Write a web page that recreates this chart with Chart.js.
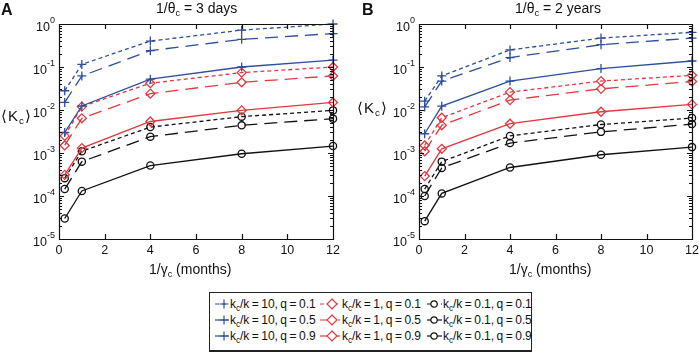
<!DOCTYPE html>
<html>
<head>
<meta charset="utf-8">
<script src="https://cdn.jsdelivr.net/npm/chart.js@4/dist/chart.umd.min.js"></script>
<style>
  body { margin: 0; width: 699px; height: 352px; background: #fff; position: relative; overflow: hidden;
         font-family: "Liberation Sans", Arial, sans-serif; color: #111; }
  canvas.panel { position: absolute; top: 0; }
  .txt { position: absolute; white-space: nowrap; line-height: 1; }
  .txt sub { font-size: 65%; vertical-align: -3px; line-height: 0; }
  .letter { font-size: 16px; font-weight: bold; }
  .title { font-size: 14px; }
  .kc { font-size: 15px; letter-spacing: 1px; }
  #legend { position: absolute; left: 209px; top: 292px; width: 321px; height: 57px; border: 1px solid #222; border-bottom-width: 2px; }
  .item { position: absolute; font-size: 12px; white-space: nowrap; line-height: 1; letter-spacing: -0.1px; word-spacing: -0.6px; }
  .item svg { position: absolute; top: -1px; }
  .item span { position: absolute; top: 0; }
  .item sub { font-size: 70%; vertical-align: -3px; line-height: 0; }
</style>
</head>
<body>
<canvas id="chartA" class="panel" width="350" height="285" style="left:0"></canvas>
<canvas id="chartB" class="panel" width="349" height="285" style="left:350px"></canvas>

<div class="txt letter" style="left:1px;top:2px">A</div>
<div class="txt letter" style="left:362px;top:2px">B</div>
<div class="txt title" style="left:156px;top:1px">1/θ<sub>c</sub> = 3 days</div>
<div class="txt title" style="left:515px;top:1px">1/θ<sub>c</sub> = 2 years</div>
<div class="txt kc" style="left:1px;top:108px">⟨K<sub>c</sub>⟩</div>
<div class="txt kc" style="left:357px;top:100px">⟨K<sub>c</sub>⟩</div>
<div class="txt title" style="left:149px;top:262px">1/γ<sub>c</sub> (months)</div>
<div class="txt title" style="left:509px;top:262px">1/γ<sub>c</sub> (months)</div>

<div id="legend"></div>

<script>
// x positions (months) and axis ticks
const months = [0.25, 1, 4, 8, 12];
const xTicks = [0, 2, 4, 6, 8, 10, 12];
const yTicks = [1e-5, 1e-4, 1e-3, 1e-2, 1e-1, 1];

const seriesLabels = [
  'k_c/k = 10, q = 0.1', 'k_c/k = 10, q = 0.5', 'k_c/k = 10, q = 0.9',
  'k_c/k = 1, q = 0.1', 'k_c/k = 1, q = 0.5', 'k_c/k = 1, q = 0.9',
  'k_c/k = 0.1, q = 0.1', 'k_c/k = 0.1, q = 0.5', 'k_c/k = 0.1, q = 0.9',
];

// panel A: 1/theta_c = 3 days
const daysK10q01 = [0.028, 0.115, 0.40, 0.72, 1.0];
const daysK10q05 = [0.015, 0.062, 0.24, 0.44, 0.60];
const daysK10q09 = [0.0030, 0.0124, 0.052, 0.100, 0.145];
const daysK1q01 = [0.0025, 0.0120, 0.042, 0.074, 0.100];
const daysK1q05 = [0.0015, 0.0064, 0.024, 0.044, 0.062];
const daysK1q09 = [0.00031, 0.0013, 0.0054, 0.0098, 0.015];
const daysK01q01 = [0.00026, 0.0011, 0.0040, 0.0070, 0.0098];
const daysK01q05 = [0.000145, 0.00063, 0.0024, 0.0044, 0.0063];
const daysK01q09 = [0.000030, 0.000131, 0.00051, 0.00096, 0.00145];

// panel B: 1/theta_c = 2 years
const yearsK10q01 = [0.016, 0.062, 0.25, 0.47, 0.64];
const yearsK10q05 = [0.0118, 0.047, 0.166, 0.33, 0.47];
const yearsK10q09 = [0.0028, 0.0123, 0.047, 0.092, 0.138];
const yearsK1q01 = [0.0015, 0.0066, 0.026, 0.047, 0.064];
const yearsK1q05 = [0.0011, 0.0044, 0.017, 0.031, 0.046];
const yearsK1q09 = [0.00029, 0.00125, 0.0048, 0.0091, 0.0135];
const yearsK01q01 = [0.000145, 0.00063, 0.0025, 0.0046, 0.0065];
const yearsK01q05 = [0.000100, 0.00045, 0.0017, 0.0031, 0.0047];
const yearsK01q09 = [0.000026, 0.000115, 0.00046, 0.00091, 0.00137];

const COLOURS = ['#2d4e9e', '#e2383f', '#111111'];   // k_c/k = 10, 1, 0.1
const MARKERS = ['cross', 'rectRot', 'circle'];
const RADII = [4.5, 4.5, 3.6];
const DASHES = [[4, 3], [13, 7], []];                 // q = 0.1, 0.5, 0.9

// box, inward ticks and tick labels, drawn from the chart's own scales
const axesBox = {
  id: 'axesBox',
  afterDraw(chart) {
    const { ctx, chartArea: a, scales: { x, y } } = chart;
    ctx.save();
    ctx.strokeStyle = '#111';
    ctx.lineWidth = 1.2;
    ctx.beginPath();
    ctx.rect(a.left + 0.5, a.top + 0.5, a.right - a.left, a.bottom - a.top);
    xTicks.forEach(v => {
      const px = Math.round(x.getPixelForValue(v)) + 0.5;
      ctx.moveTo(px, a.bottom); ctx.lineTo(px, a.bottom - 5);
      ctx.moveTo(px, a.top); ctx.lineTo(px, a.top + 5);
    });
    yTicks.forEach((v, i) => {
      for (let m = 1; m < 10; m++) {
        if (i === yTicks.length - 1 && m > 1) break;
        const py = Math.round(y.getPixelForValue(v * m)) + 0.5;
        const len = m === 1 ? 5 : 3;
        ctx.moveTo(a.left, py); ctx.lineTo(a.left + len, py);
        ctx.moveTo(a.right, py); ctx.lineTo(a.right - len, py);
      }
    });
    ctx.stroke();

    ctx.fillStyle = '#111';
    ctx.font = '12.5px "Liberation Sans", Arial, sans-serif';
    ctx.textAlign = 'center';
    ctx.textBaseline = 'top';
    xTicks.forEach(v => ctx.fillText(String(v), x.getPixelForValue(v), a.bottom + 5));

    yTicks.forEach(v => {
      const py = y.getPixelForValue(v);
      const exp = String(Math.round(Math.log10(v)));
      ctx.font = '9px "Liberation Sans", Arial, sans-serif';
      ctx.textAlign = 'right';
      ctx.textBaseline = 'alphabetic';
      const ex = a.left - 4;
      ctx.fillText(exp, ex, py - 1);
      const ew = ctx.measureText(exp).width;
      ctx.font = '12.5px "Liberation Sans", Arial, sans-serif';
      ctx.fillText('10', ex - ew, py + 7);
    });
    ctx.restore();
  },
};

function makeChart(id, series, padLeft, padRight) {
  const datasets = series.map((vals, i) => {
    const k = Math.floor(i / 3), q = i % 3;
    return {
      label: seriesLabels[i],
      data: months.map((m, j) => ({ x: m, y: vals[j] })),
      borderColor: COLOURS[k],
      borderDash: DASHES[q],
      borderWidth: 1.3,
      pointStyle: MARKERS[k],
      pointRadius: RADII[k],
      pointBorderColor: COLOURS[k],
      pointBackgroundColor: 'rgba(0,0,0,0)',
      pointBorderWidth: 1.3,
      tension: 0,
      clip: 8,
    };
  });
  return new Chart(document.getElementById(id).getContext('2d'), {
    type: 'line',
    data: { datasets },
    options: {
      responsive: false,
      animation: false,
      devicePixelRatio: 1,
      layout: { padding: { left: padLeft, right: padRight, top: 24, bottom: 46 } },
      plugins: { legend: { display: false }, tooltip: { enabled: false } },
      scales: {
        x: { type: 'linear', min: 0, max: 12, display: false },
        y: { type: 'logarithmic', min: 1e-5, max: 1, display: false },
      },
    },
    plugins: [axesBox],
  });
}

makeChart('chartA', [daysK10q01, daysK10q05, daysK10q09, daysK1q01, daysK1q05, daysK1q09, daysK01q01, daysK01q05, daysK01q09], 59, 17);
makeChart('chartB', [yearsK10q01, yearsK10q05, yearsK10q09, yearsK1q01, yearsK1q05, yearsK1q09, yearsK01q01, yearsK01q05, yearsK01q09], 69, 7);

// legend: three columns (k_c/k), three rows (q)
const legend = document.getElementById('legend');
const colLeft = [5, 110, 217];      // sample start per column
const sampleW = [14, 20, 15];       // sample length per column
const markerX = [9, 12, 7];         // marker centre inside sample
const textX = [15, 22, 16];         // text offset from sample start
const rowTop = [5, 21, 37];
seriesLabels.forEach((label, i) => {
  const k = Math.floor(i / 3), q = i % 3;
  const c = COLOURS[k], w = sampleW[k], m = markerX[k];
  let marker;
  if (k === 0) marker = `<path d="M${m} 2.5V11.5M${m - 4.5} 7H${m + 4.5}" stroke="${c}" stroke-width="1.2"/>`;
  else if (k === 1) marker = `<path d="M${m} 2L${m + 5} 7L${m} 12L${m - 5} 7Z" fill="#fff" stroke="${c}" stroke-width="1.2"/>`;
  else marker = `<circle cx="${m}" cy="7" r="3.2" fill="#fff" stroke="${c}" stroke-width="1.2"/>`;
  const dash = q === 0 ? 'stroke-dasharray="4 3"' : (q === 1 ? 'stroke-dasharray="16 2"' : '');
  const item = document.createElement('div');
  item.className = 'item';
  item.style.left = colLeft[k] + 'px';
  item.style.top = rowTop[q] + 'px';
  const parts = label.split('k_c');
  item.innerHTML = `<svg width="${w}" height="14" style="left:0"><line x1="0" y1="7" x2="${w}" y2="7" stroke="${c}" stroke-width="1.2" ${dash}/>${marker}</svg>` +
    `<span style="left:${textX[k]}px">k<sub>c</sub>${parts[1]}</span>`;
  legend.appendChild(item);
});
</script>
</body>
</html>
